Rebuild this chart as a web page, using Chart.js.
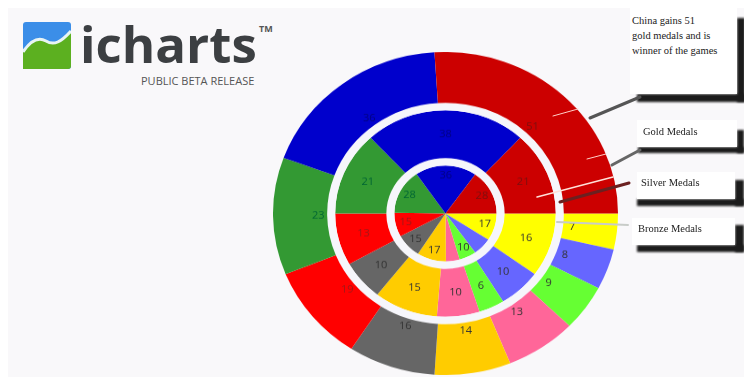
<!DOCTYPE html>
<html><head><meta charset="utf-8">
<style>
html,body{margin:0;padding:0;background:#fff;width:744px;height:377px;overflow:hidden}
#all{position:absolute;left:0;top:0;width:744px;height:377px;filter:blur(.45px)}
#bg{position:absolute;left:8px;top:8px;width:736px;height:369px;background:#f9f8fa}
#wrap{position:absolute;left:273px;top:41px;width:345px;height:345px;transform:scaleY(.936);transform-origin:50% 50%}
#over{position:absolute;left:0;top:0}
.box{position:absolute;background:#fff;font:10.5px/15px "Liberation Serif",serif;color:#222;box-sizing:border-box}
.sh{position:absolute;background:#1c1c1c;filter:blur(.8px)}
#logoT{position:absolute;left:80px;top:11px;font:700 51px/64px "Open Sans",sans-serif;color:#3c3f42}
#tm{position:absolute;left:259px;top:23px;font:700 9px/11px "Open Sans",sans-serif;color:#555}
#beta{position:absolute;left:141px;top:74px;font:400 11px/13px "Open Sans",sans-serif;color:#555}
</style></head><body><div id="all">
<div id="bg"></div>
<svg id="logo" style="position:absolute;left:23px;top:22px" width="48" height="47" viewBox="0 0 48 47">
<rect width="48" height="47" rx="3" fill="#3b8ee8"/>
<path d="M0 47V30C8 18 16 15 23 19C31 24 38 20 48 9V44a3 3 0 0 1-3 3Z" fill="#5cb020"/>
<path d="M0 30C8 18 16 15 23 19C31 24 38 20 48 9" fill="none" stroke="#e8f4f4" stroke-width="3"/>
</svg>
<div id="logoT">icharts</div><div id="tm">TM</div><div id="beta">PUBLIC BETA RELEASE</div>
<div id="wrap"><canvas id="c" width="345" height="345"></canvas></div>
<div class="sh" style="left:737px;top:18px;width:8px;height:84px"></div>
<div class="sh" style="left:637px;top:94px;width:108px;height:8px"></div>
<div class="sh" style="left:737px;top:130px;width:7px;height:23px"></div>
<div class="sh" style="left:638px;top:147px;width:106px;height:6px"></div>
<div class="sh" style="left:735px;top:180px;width:9px;height:26px"></div>
<div class="sh" style="left:637px;top:199px;width:107px;height:7px"></div>
<div class="sh" style="left:735px;top:225px;width:9px;height:27px"></div>
<div class="sh" style="left:637px;top:245px;width:107px;height:7px"></div>
<svg id="over" width="744" height="377">
<g fill="none" stroke-linecap="round">
<path d="M640 97L590 118" stroke="#555" stroke-width="3"/>
<path d="M640 150L612 165" stroke="#666" stroke-width="3"/>
<path d="M629 183L560 202" stroke="#6b2020" stroke-width="3"/>
<path d="M628 225L557 222" stroke="#c8ccc8" stroke-width="2"/>
<path d="M553 116L578 109" stroke="#ffd0c8" stroke-width="1"/>
<path d="M587 159L606 154" stroke="#ffd0c8" stroke-width="1"/>
<path d="M537 197L613 177" stroke="#ffe0d8" stroke-width="1.5"/>
</g></svg>
<div class="box" style="left:630px;top:8px;width:107px;height:86px;padding:5px 0 0 2px">China gains 51<br>gold medals and is<br>winner of the games</div>
<div class="box" style="left:637px;top:120px;width:100px;height:27px;padding:4px 0 0 6px">Gold Medals</div>
<div class="box" style="left:637px;top:172px;width:98px;height:27px;padding:3px 0 0 4px">Silver Medals</div>
<div class="box" style="left:632px;top:218px;width:103px;height:27px;padding:3px 0 0 6px">Bronze Medals</div>
</div>
<script src="https://cdn.jsdelivr.net/npm/chart.js@4"></script>
<script>
const countries=["France","Italy","Japan","Korea","Australia","Germany","Britain","Russia","USA","China"];
const colors=["#ffff00","#6666ff","#66ff33","#ff6699","#ffcc00","#666666","#ff0000","#339933","#0000cc","#cc0000"];
const gold=[7,8,9,13,14,16,19,23,36,51];
const silver=[16,10,6,10,15,10,13,21,38,21];
const bronze=[17,11,10,8,17,15,15,28,36,28];
const unlabelledBronze=["Italy","Korea"];
const gap="#f6f6fb";
const labelPlugin={id:"vals",afterDatasetsDraw(ch){
  const x=ch.ctx;x.save();x.font='11px "Open Sans",sans-serif';x.textAlign="center";x.textBaseline="middle";
  ch.data.datasets.forEach((d,i)=>{ if(d.isGap) return;
    ch.getDatasetMeta(i).data.forEach((a,j)=>{
      if(d.isInner&&unlabelledBronze.includes(countries[j])) return;
      const p=a.getProps(["startAngle","endAngle","innerRadius","outerRadius","x","y"],true);
      const m=(p.startAngle+p.endAngle)/2;
      const r=d.isGold?p.innerRadius+9:d.isInner?p.outerRadius*.8:(p.innerRadius+p.outerRadius)/2;
      x.fillStyle=colors[j]==="#0000cc"?"rgba(0,0,80,.6)":colors[j]==="#cc0000"?"#7a1010":colors[j]==="#339933"?"#063":colors[j]==="#ff0000"?"#a01818":"#333";
      x.fillText(d.data[j],p.x+Math.cos(m)*r,p.y+Math.sin(m)*r);
    });
  });x.restore();}};
new Chart(document.getElementById("c"),{type:"doughnut",
 data:{labels:countries,datasets:[
  {data:gold,backgroundColor:colors,borderWidth:0,weight:54,isGold:true},
  {data:[1],backgroundColor:[gap],borderWidth:0,weight:8,isGap:true},
  {data:silver,backgroundColor:colors,borderWidth:0,weight:51},
  {data:[1],backgroundColor:[gap],borderWidth:0,weight:8,isGap:true},
  {data:bronze,backgroundColor:colors,borderWidth:0,weight:51,isInner:true}
 ]},
 options:{responsive:false,animation:false,cutout:0,rotation:90,layout:{padding:0},
  plugins:{legend:{display:false},tooltip:{enabled:false}}},
 plugins:[labelPlugin]});
</script>
</body></html>
